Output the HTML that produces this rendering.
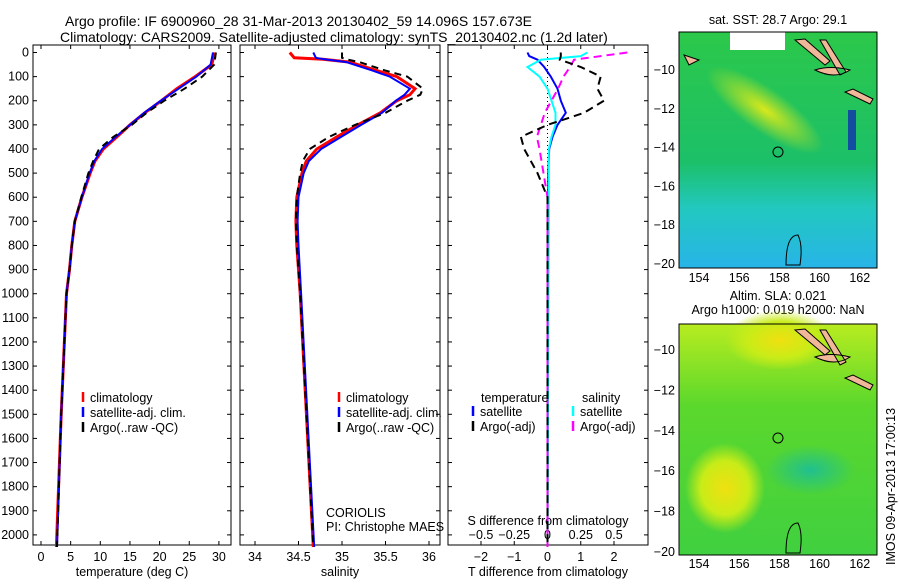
<!DOCTYPE html>
<html><head><meta charset="utf-8"><style>
body{margin:0;background:#fff;width:900px;height:580px;overflow:hidden}
svg text{font-family:"Liberation Sans",sans-serif;font-size:12.5px;fill:#000}
svg text.big{font-size:14px}
</style></head><body>
<svg id="s" width="900" height="580" xmlns="http://www.w3.org/2000/svg">
<defs>
<radialGradient id="gy1" cx="0.5" cy="0.5" r="0.5"><stop offset="0" stop-color="#d8e81c"/><stop offset="1" stop-color="#d8e81c" stop-opacity="0"/></radialGradient>
<linearGradient id="gt" x1="0" y1="0" x2="0" y2="1"><stop offset="0" stop-color="#2cc84a"/><stop offset="0.55" stop-color="#1cc068"/><stop offset="0.75" stop-color="#22c8c0"/><stop offset="1" stop-color="#28b4e8"/></linearGradient>
<linearGradient id="gb" x1="0" y1="0" x2="0" y2="1"><stop offset="0" stop-color="#b8ec20"/><stop offset="0.35" stop-color="#5cd82c"/><stop offset="1" stop-color="#40d040"/></linearGradient>
<radialGradient id="gy2" cx="0.5" cy="0.5" r="0.5"><stop offset="0" stop-color="#f0e010"/><stop offset="0.6" stop-color="#c8ec18"/><stop offset="1" stop-color="#c8ec18" stop-opacity="0"/></radialGradient>
<radialGradient id="gc2" cx="0.5" cy="0.5" r="0.5"><stop offset="0" stop-color="#20c090"/><stop offset="1" stop-color="#20c090" stop-opacity="0"/></radialGradient>
</defs>
<text class="big" x="65" y="26">Argo profile: IF 6900960_28 31-Mar-2013 20130402_59 14.096S 157.673E</text>
<text class="big" x="60" y="42">Climatology: CARS2009. Satellite-adjusted climatology: synTS_20130402.nc (1.2d later)</text>
<g id="g"></g>
<g>
<text x="778" y="24" text-anchor="middle">sat. SST: 28.7 Argo: 29.1</text>
<rect x="679" y="32" width="198" height="236" fill="url(#gt)"/>
<ellipse cx="765" cy="110" rx="70" ry="22" transform="rotate(35 765 110)" fill="url(#gy1)"/>
<rect x="730" y="32" width="55" height="18" fill="#fff"/>
<path d="M795,40 l30,25 l5,-4 l-25,-22z M820,40 l20,35 l6,-3 l-20,-32z M815,70 q15,-5 35,0 q-15,10 -35,0z M845,92 l25,12 l3,-5 l-20,-10z M684,55 l15,5 l-10,5z" fill="#f0b898" stroke="#000" stroke-width="1"/>
<rect x="848" y="110" width="8" height="40" fill="#1030b0" opacity="0.8"/>
<circle cx="778" cy="152" r="5" fill="none" stroke="#000"/>
<path d="M786,265 q0,-30 12,-30 q5,10 2,30z" fill="none" stroke="#000"/>
<rect x="679" y="32" width="198" height="236" fill="none" stroke="#000"/>
</g>
<g>
<text x="778" y="300" text-anchor="middle">Altim. SLA: 0.021</text>
<text x="778" y="314" text-anchor="middle">Argo h1000: 0.019 h2000: NaN</text>
<rect x="679" y="324" width="198" height="231" fill="url(#gb)"/>
<ellipse cx="780" cy="340" rx="55" ry="30" fill="url(#gy2)"/>
<ellipse cx="725" cy="488" rx="40" ry="45" fill="url(#gy2)"/>
<ellipse cx="810" cy="470" rx="45" ry="25" fill="url(#gc2)"/>
<path d="M795,330 l30,25 l5,-4 l-25,-22z M820,330 l20,35 l6,-3 l-20,-32z M815,357 q15,-5 35,0 q-15,10 -35,0z M845,378 l25,12 l3,-5 l-20,-10z" fill="#f0b898" stroke="#000" stroke-width="1"/>
<circle cx="778" cy="438" r="5" fill="none" stroke="#000"/>
<path d="M786,553 q0,-30 12,-30 q5,10 2,30z" fill="none" stroke="#000"/>
<rect x="679" y="324" width="198" height="231" fill="none" stroke="#000"/>
</g>
<text transform="translate(895,565) rotate(-90)">IMOS 09-Apr-2013 17:00:13</text>
</svg>
<script>
const depthT=[0,50,100,150,200,250,300,350,400,450,500,600,700,800,900,1000,1500,2050];
const tempClim=[29.3,28.8,26,22.9,20.3,17.5,15,12.8,10.5,9.1,8.3,6.9,5.7,5.2,4.8,4.3,3.4,2.6];
const tempSat=[29.0,28.6,26.2,23.2,20.2,17.4,15,12.6,10.3,9,8.2,6.9,5.7,5.2,4.8,4.3,3.4,2.7];
const tempArgo=[29.5,29.2,27.2,24.2,20.8,17.8,15.3,12.2,9.8,8.8,8,6.8,5.7,5.2,4.8,4.3,3.4,2.7];
const depthS=[0,22,28,40,75,100,150,175,200,250,300,350,400,450,500,600,700,800,1000,2050];
const salClim=[34.4,34.45,34.78,35.09,35.4,35.63,35.84,35.78,35.63,35.44,35.18,34.94,34.71,34.59,34.54,34.48,34.47,34.48,34.52,34.67];
const salSat=[34.67,34.7,34.8,35.05,35.35,35.55,35.78,35.72,35.62,35.46,35.22,34.99,34.76,34.62,34.56,34.5,34.49,34.5,34.53,34.68];
const salArgo=[35.0,35.0,35.05,35.2,35.5,35.75,35.93,35.9,35.75,35.5,35.15,34.85,34.63,34.55,34.52,34.48,34.47,34.48,34.52,34.67];
const depthD=[0,15,30,60,100,150,200,250,300,350,400,500,600,2050];
const dTsat=[-0.6,-0.55,-0.3,-0.1,0.1,0.3,0.4,0.55,0.3,0.15,0.05,0.02,0.02,0];
const dTargo=[0.4,0.4,0.37,1.0,1.6,1.5,1.7,1.1,0,-0.8,-0.7,-0.3,0,0];
const dSsat=[0.3,0.25,-0.05,-0.15,-0.06,0,0.03,0.06,0.06,0.03,0.01,0.01,0.01,0];
const dSargo=[0.6,0.4,0.2,0.17,0.12,0.08,0.03,-0.02,-0.05,-0.08,-0.06,-0.03,0,0];
const depthTicks=[0,100,200,300,400,500,600,700,800,900,1000,1100,1200,1300,1400,1500,1600,1700,1800,1900,2000];
const tTicks=[0,5,10,15,20,25,30];
const sTicks=[34,34.5,35,35.5,36];
const dTTicks=[-2,-1,0,1,2];
const dSTicks=[-0.5,-0.25,0,0.25,0.5];
const dSTickLabels=['−0.5','−0.25','0','0.25','0.5'];
const NS='http://www.w3.org/2000/svg';
const G=document.getElementById('g');
const Y=d=>52.5+d*0.2412;
const topY=45,botY=545;
function el(t,a,p){const e=document.createElementNS(NS,t);for(const k in a)e.setAttribute(k,a[k]);(p||G).appendChild(e);return e;}
function txt(x,y,s,anchor,name){const e=el('text',{x:x,y:y,'text-anchor':anchor||'start'});e.textContent=s;


return e;}
function frame(x0,x1,name){const r=el('rect',{x:x0,y:topY,width:x1-x0,height:botY-topY,fill:'none',stroke:'#000'});

}
function line(X,vals,depths,color,dash,name,w){
  const pts=vals.map((v,i)=>X(v).toFixed(1)+','+Y(depths[i]).toFixed(1)).join(' ');
  const p=el('polyline',{points:pts,fill:'none',stroke:color,'stroke-width':w||2,'stroke-dasharray':dash||'none'});
  
  
}
depthTicks.forEach(d=>{txt(29,Y(d)+4,String(d),'end','depth-tick-label');});
[[33,231],[240,440],[448,648]].forEach(([a,b])=>{depthTicks.forEach(d=>{el('line',{x1:a,x2:a+4,y1:Y(d),y2:Y(d),stroke:'#000'});el('line',{x1:b,x2:b-4,y1:Y(d),y2:Y(d),stroke:'#000'});});});
const XT=v=>41+v*5.93;
frame(33,231,'temperature-panel-frame');
tTicks.forEach(v=>{txt(XT(v),561,String(v),'middle','temp-tick-label');el('line',{x1:XT(v),x2:XT(v),y1:botY,y2:botY-4,stroke:'#000'});el('line',{x1:XT(v),x2:XT(v),y1:topY,y2:topY+4,stroke:'#000'});});
txt(132,576,'temperature (deg C)','middle','temp-axis-title');
line(XT,tempClim,depthT,'#f00',null,'temp-climatology-line',3);
line(XT,tempSat,depthT,'#00f',null,'temp-satellite-line');
line(XT,tempArgo,depthT,'#000','7,5','temp-argo-line');
function legend(x,y,items){items.forEach((it,i)=>{el('line',{x1:x,x2:x,y1:y+i*15-10,y2:y+i*15,stroke:it[0],'stroke-width':2.5});txt(x+7,y+i*15,it[1],'start','legend-entry');});}
legend(83,402,[['#f00','climatology'],['#00f','satellite-adj. clim.'],['#000','Argo(..raw -QC)']]);
const XS=v=>255+(v-34)*87;
frame(240,440,'salinity-panel-frame');
sTicks.forEach(v=>{txt(XS(v),561,String(v),'middle','sal-tick-label');el('line',{x1:XS(v),x2:XS(v),y1:botY,y2:botY-4,stroke:'#000'});el('line',{x1:XS(v),x2:XS(v),y1:topY,y2:topY+4,stroke:'#000'});});
txt(340,576,'salinity','middle','sal-axis-title');
line(XS,salClim,depthS,'#f00',null,'sal-climatology-line',3);
line(XS,salSat,depthS,'#00f',null,'sal-satellite-line');
line(XS,salArgo,depthS,'#000','7,5','sal-argo-line');
legend(339,402,[['#f00','climatology'],['#00f','satellite-adj. clim.'],['#000','Argo(..raw -QC)']]);
txt(326,517,'CORIOLIS','start','data-centre-label');
txt(326,531,'PI: Christophe MAES','start','pi-label');
const XD=v=>547.5+v*33.25;
const XDS=v=>547.5+v*133;
frame(448,648,'difference-panel-frame');
dTTicks.forEach(v=>{txt(XD(v),561,v<0?'−'+(-v):String(v),'middle','dT-tick-label');el('line',{x1:XD(v),x2:XD(v),y1:botY,y2:botY-4,stroke:'#000'});el('line',{x1:XD(v),x2:XD(v),y1:topY,y2:topY+4,stroke:'#000'});});
dSTicks.forEach((v,i)=>{txt(XDS(v),539,dSTickLabels[i],'middle','dS-tick-label');});
txt(548,525,'S difference from climatology','middle','dS-axis-title');
txt(548,576,'T difference from climatology','middle','dT-axis-title');
el('line',{x1:XD(0),x2:XD(0),y1:topY,y2:botY,stroke:'#000','stroke-dasharray':'1,3'});
line(XD,dTsat,depthD,'#00f',null,'dT-satellite-line');
line(XDS,dSsat,depthD,'#0ff',null,'dS-satellite-line');
line(XDS,dSargo,depthD,'#f0f','8,5','dS-argo-line');
line(XD,dTargo,depthD,'#000','8,5','dT-argo-line');
txt(481,402,'temperature','start','legend-heading-temperature');
txt(582,402,'salinity','start','legend-heading-salinity');
legend(473,416,[['#00f','satellite'],['#000','Argo(-adj)']]);
legend(573,416,[['#0ff','satellite'],['#f0f','Argo(-adj)']]);
function mapAxes(y1,yTop,yBot,xlab){
  [154,156,158,160,162].forEach(v=>{const x=699+(v-154)*20.1;txt(x,xlab,String(v),'middle','map-lon-label');el('line',{x1:x,x2:x,y1:y1,y2:y1-4,stroke:'#000'});});
  [-10,-12,-14,-16,-18,-20].forEach(v=>{const y=yTop+(-10-v)*(yBot-yTop)/10;txt(675,y+4,String(v).replace('-','−'),'end','map-lat-label');el('line',{x1:877,x2:873,y1:y,y2:y,stroke:'#000'});});
}
mapAxes(268,70,264,282);
mapAxes(555,350,552,568);
</script>
</body></html>
